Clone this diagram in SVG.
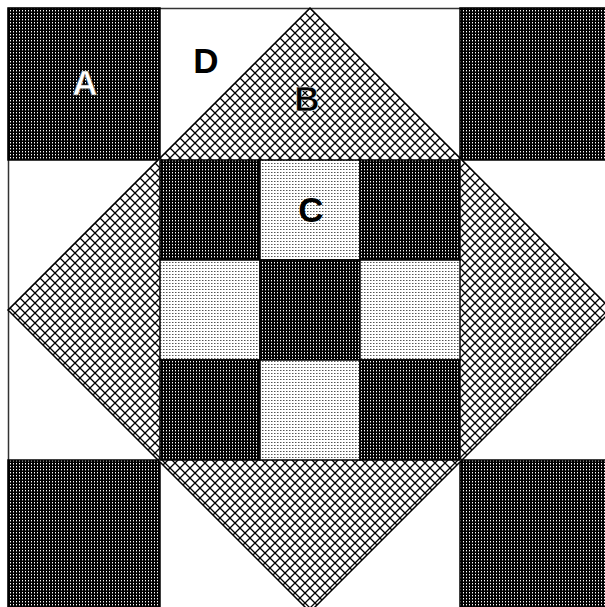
<svg xmlns="http://www.w3.org/2000/svg" width="605" height="607" viewBox="0 0 605 607">
<defs>
<pattern id="dark" patternUnits="userSpaceOnUse" width="3" height="3">
<rect width="3" height="3" fill="#000"/>
<rect x="1" y="1" width="1" height="1" fill="#fff"/>
<rect x="1" y="2" width="1" height="1" fill="#666"/>
</pattern>
<pattern id="light" patternUnits="userSpaceOnUse" width="3" height="3">
<rect width="3" height="3" fill="#fff"/>
<rect x="1" y="1" width="1" height="1" fill="#555"/>
<rect x="2" y="1" width="1" height="1" fill="#aaa"/>
</pattern>
<pattern id="hatch" patternUnits="userSpaceOnUse" width="10" height="10" x="310" y="8">
<rect width="10" height="10" fill="#fff"/>
<path d="M0,0L10,10M10,0L0,10" stroke="#000" stroke-width="1.3"/>
</pattern>
</defs>
<style>
.p{stroke:#000;stroke-width:1.5}
.dk{fill:url(#dark)}
.lt{fill:url(#light)}
.hx{fill:url(#hatch)}
.lbl{font-family:"Liberation Sans",Arial,sans-serif;font-weight:bold;font-size:35px;text-anchor:middle}
</style>
<rect id="block" x="8.5" y="8.5" width="604" height="604" fill="#fff" stroke="#333" stroke-width="1.5"/>
<g id="corner-tl"><rect class="p dk" x="8" y="8" width="152" height="152"/></g>
<g id="corner-tr"><rect class="p dk" x="460" y="8" width="152" height="152"/></g>
<g id="corner-bl"><rect class="p dk" x="8" y="460" width="152" height="152"/></g>
<g id="corner-br"><rect class="p dk" x="460" y="460" width="152" height="152"/></g>
<g id="diamond"><polygon class="p hx" points="310,8 612,310 310,612 8,310"/></g>
<g id="center">
<rect class="p dk" x="160" y="160" width="100" height="100"/>
<rect class="p lt" x="260" y="160" width="100" height="100"/>
<rect class="p dk" x="360" y="160" width="100" height="100"/>
<rect class="p lt" x="160" y="260" width="100" height="100"/>
<rect class="p dk" x="260" y="260" width="100" height="100"/>
<rect class="p lt" x="360" y="260" width="100" height="100"/>
<rect class="p dk" x="160" y="360" width="100" height="100"/>
<rect class="p lt" x="260" y="360" width="100" height="100"/>
<rect class="p dk" x="360" y="360" width="100" height="100"/>
</g>
<g id="labels">
<text class="lbl" x="85" y="95" fill="#fff" stroke="#555" stroke-width="0.6">A</text>
<text class="lbl" x="206" y="73" fill="#000">D</text>
<text class="lbl" x="307" y="111" fill="#000" stroke="#fff" stroke-width="0.6">B</text>
<text class="lbl" x="311" y="222" fill="#000">C</text>
</g>
</svg>
